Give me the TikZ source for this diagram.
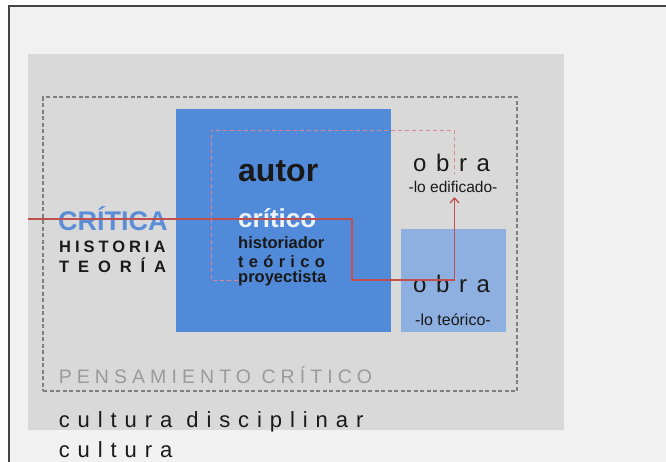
\documentclass[tikz,border=0pt]{standalone}
\usepackage{fontspec}
\setmainfont{Liberation Sans}
\usetikzlibrary{arrows.meta}

\definecolor{fondo}{HTML}{F1F1F1}
\definecolor{marco}{HTML}{444444}
\definecolor{gris}{HTML}{D9D9D9}
\definecolor{grisraya}{HTML}{7F7F7F}
\definecolor{azul}{HTML}{518AD8}
\definecolor{azulclaro}{HTML}{8EB0E0}
\definecolor{azultxt}{HTML}{5B8ED6}
\definecolor{rojo}{HTML}{C0504D}
\definecolor{rojoclaro}{HTML}{D98892}
\definecolor{gristxt}{HTML}{9A9A9A}

\newcommand{\tam}[1]{\fontsize{#1}{#1}\selectfont}
\newcommand{\esp}[1]{\addfontfeature{LetterSpace=#1}}

\begin{document}
\begin{tikzpicture}[x=1pt,y=-1pt]

              % Definitions
              \tikzstyle{Caja} = [rectangle, inner sep=0pt, outer sep=0pt]
              \tikzstyle{Texto} = [inner sep=0pt, anchor=base west, text=black!90]
              \tikzstyle{arrow} = [line width=1.3pt, rojo, -{Straight Barb[length=5pt,width=9pt]}]
              \tikzstyle{linea} = [line width=1.3pt, rojo]
              \tikzstyle{guion} = [line width=0.9pt, rojoclaro, dash pattern=on 4pt off 3pt]

              \useasboundingbox (0,0) rectangle (666,461);
              \fill[white] (0,0) rectangle (666,461);
              \clip (0,0) rectangle (666,461);
              \draw[marco, line width=2pt, fill=fondo] (9,6) rectangle (690,480);

              \node (Cultura) [Caja, fill=gris, minimum width=536pt, minimum height=376pt] at (296,242) {};
              \node (Pensar) [Caja, draw=grisraya, line width=1.5pt, dash pattern=on 4pt off 2.5pt, minimum width=474pt, minimum height=294pt] at (280,244) {};
              \node (Autor) [Caja, fill=azul, minimum width=215pt, minimum height=223pt] at (283.5,220.5) {};
              \node (Teorica) [Caja, fill=azulclaro, minimum width=105pt, minimum height=103pt] at (453,280.5) {};

              \node (critica) [Texto, text=azultxt] at (58,230) {\tam{27}\bfseries CRÍTICA};
              \node (historia) [Texto] at (59,252) {\tam{16.5}\bfseries\esp{24}HISTORIA};
              \node (teoria) [Texto] at (59,272) {\tam{16.5}\bfseries\esp{54}TEORÍA};

              \node (autor) [Texto] at (238,181) {\tam{32}\bfseries autor};
              \node (critico) [Texto, text=white!90!azul] at (238,227) {\tam{26}\bfseries crítico};
              \node (historiador) [Texto] at (238,248) {\tam{16.5}\bfseries historiador};
              \node (teorico) [Texto] at (238,267) {\tam{16.5}\bfseries\esp{32}teórico};
              \node (proyectista) [Texto] at (238,282) {\tam{16.5}\bfseries proyectista};

              \node (obra1) [Texto] at (413,171) {\tam{24}\esp{40}obra};
              \node (edificado) [Texto, anchor=base] at (453,192) {\tam{15.5}-lo edificado-};
              \node (obra2) [Texto] at (413,292) {\tam{24}\esp{40}obra};
              \node (loteorico) [Texto, anchor=base] at (453,325) {\tam{16}-lo teórico-};

              \node (pensamiento) [Texto, text=gristxt] at (58.6,383) {\tam{19.5}\esp{26}PENSAMIENTO CRÍTICO};
              \node (disciplinar) [Texto] at (58.6,427) {\tam{22}\esp{36}cultura disciplinar};
              \node (cultura) [Texto] at (58.6,457) {\tam{22}\esp{36}cultura};

              % recorrido del critico
              \coordinate (c0) at (Cultura.west |- 0,219);
              \coordinate (c1) at (352,219);
              \coordinate (c2) at (352,280);
              \coordinate (c3) at (454.5,280);
              \coordinate (c4) at (454.5,197);
              \draw [linea] (c0) -- (c1) -- (c2) -- (c3);
              \draw [arrow] (c3) -- (c4);

              \coordinate (d0) at (238,280);
              \coordinate (d1) at (211,280);
              \coordinate (d2) at (211,130);
              \coordinate (d3) at (454.5,130);
              \coordinate (d4) at (454.5,174);
              \draw [guion] (d0) -- (d1) -- (d2) -- (d3) -- (d4);

            \end{tikzpicture}
\end{document}
